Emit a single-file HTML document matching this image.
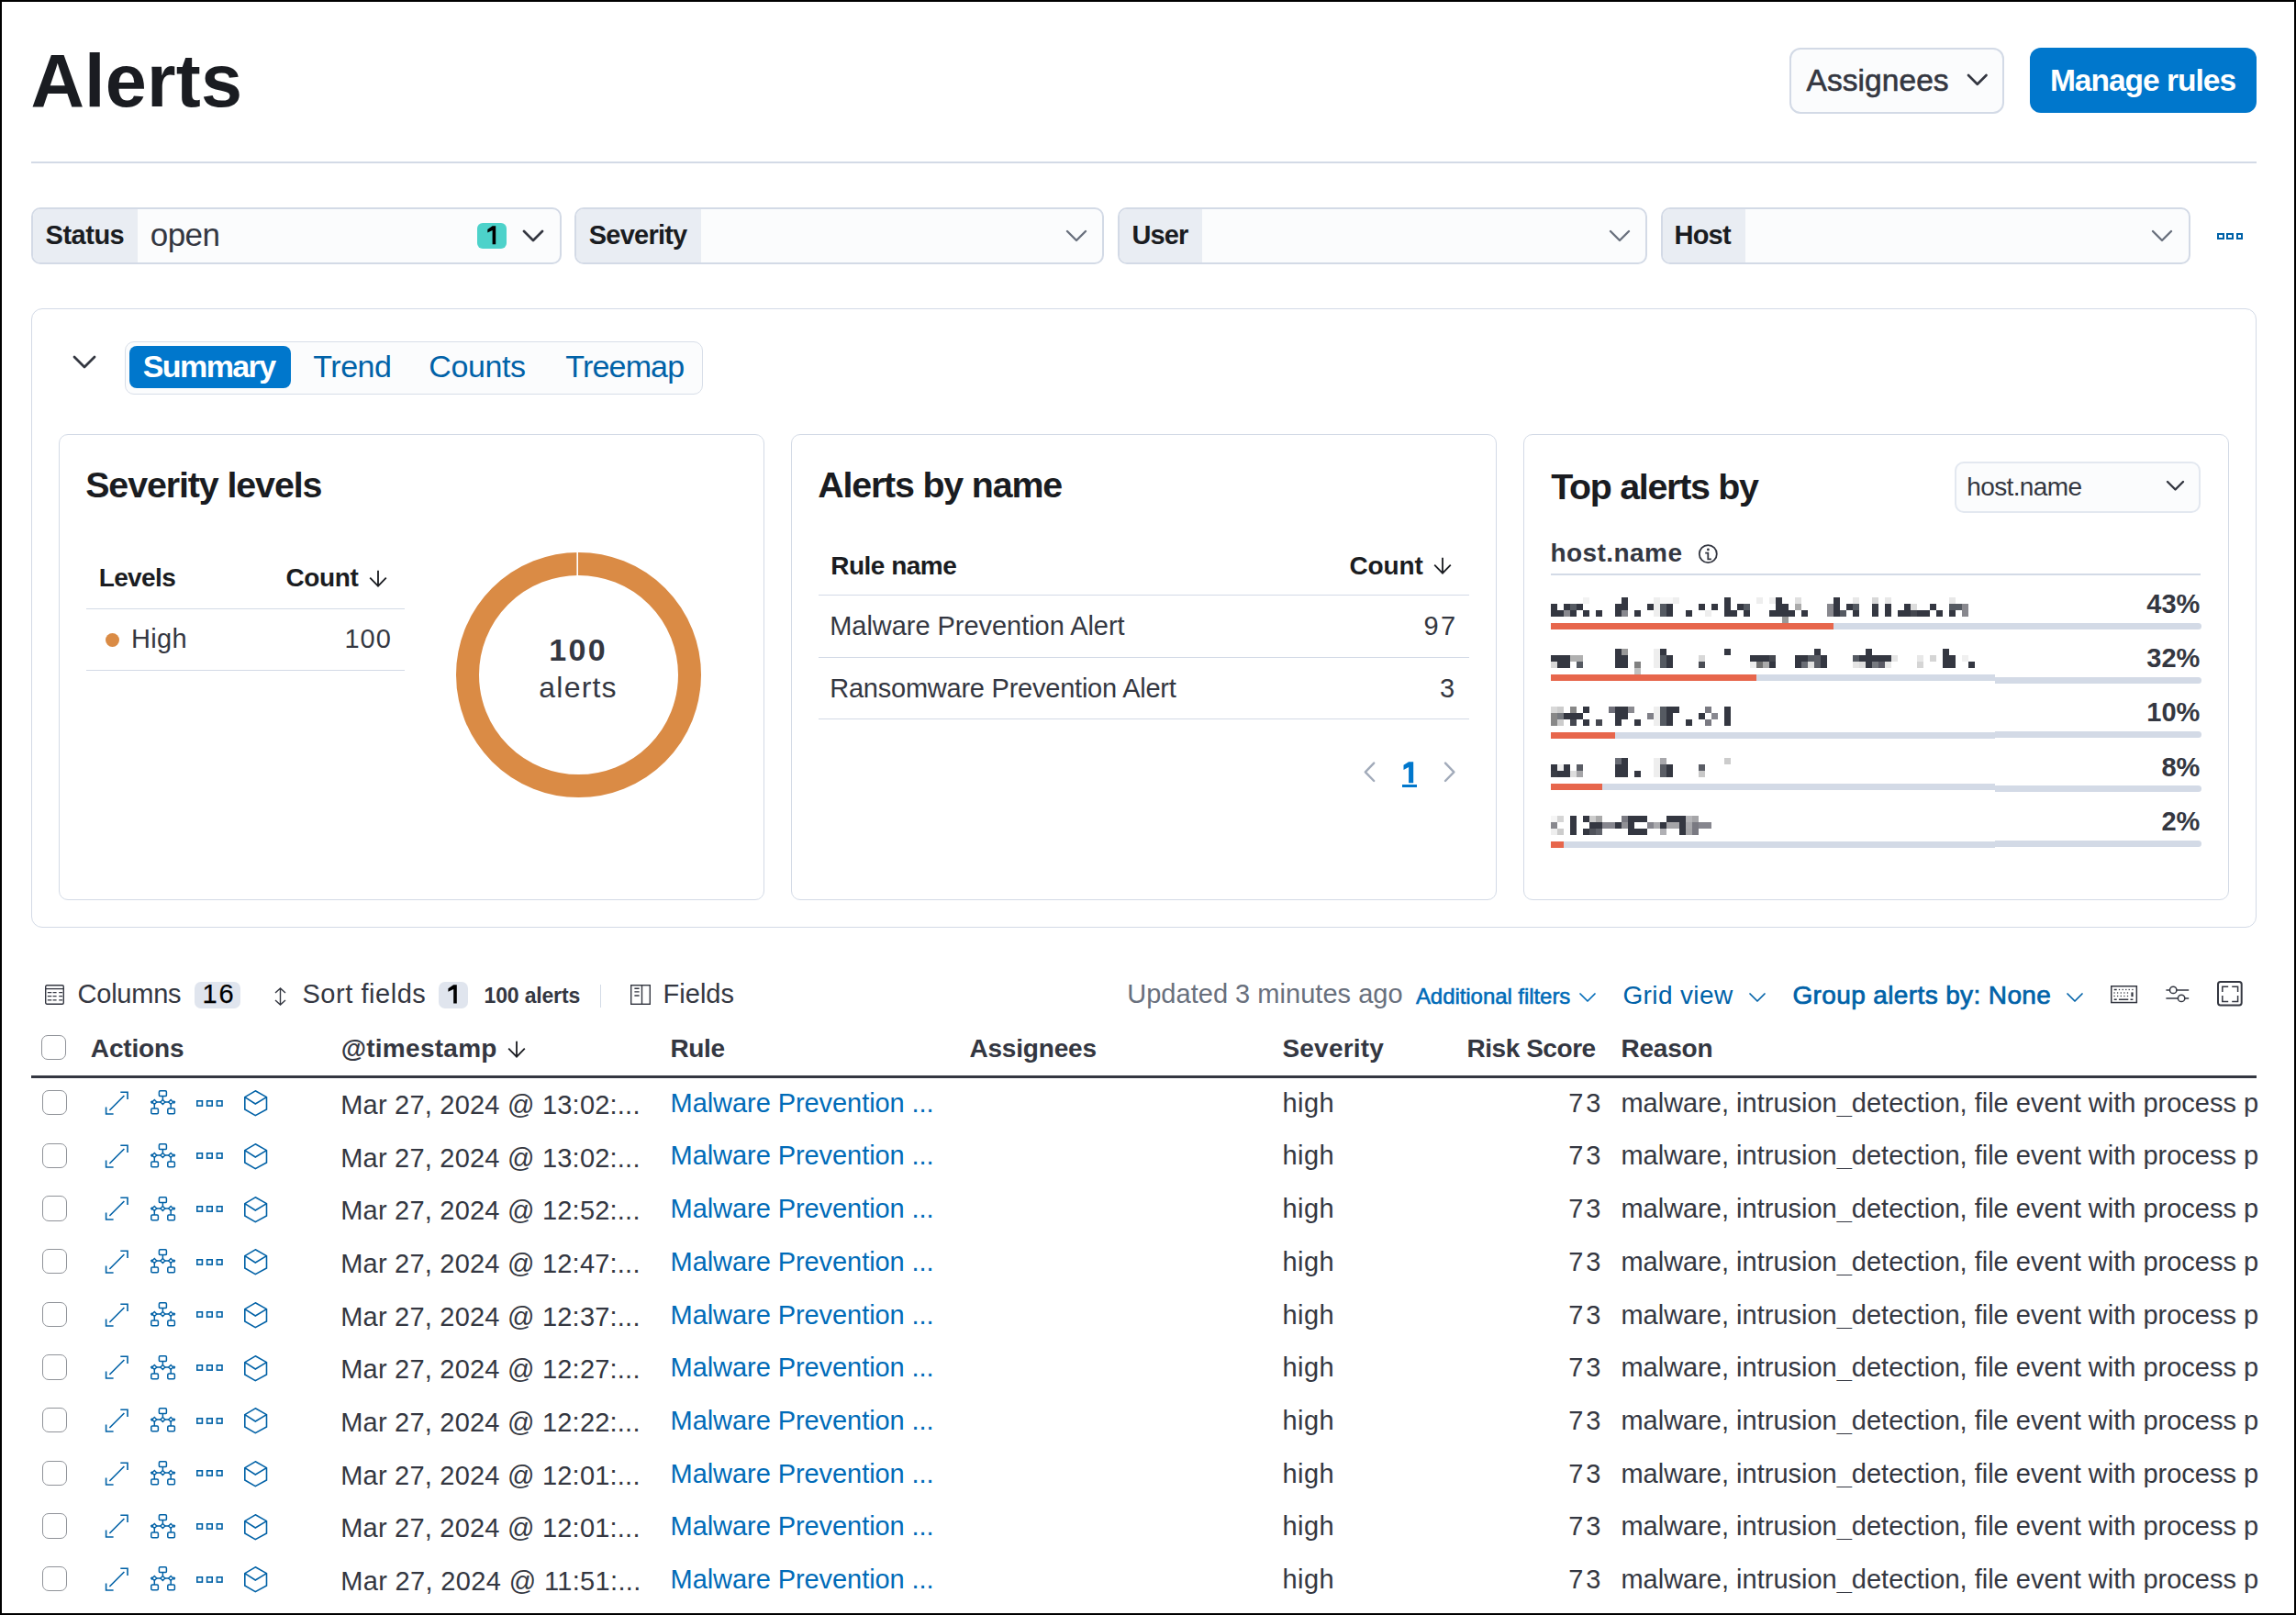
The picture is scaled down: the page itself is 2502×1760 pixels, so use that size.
<!DOCTYPE html>
<html><head><meta charset="utf-8">
<style>
*{box-sizing:border-box;margin:0;padding:0}
html,body{width:2502px;height:1760px;overflow:hidden;background:#fff}
body{font-family:"Liberation Sans",sans-serif;color:#343741;position:relative;border:2px solid #000}
.a{position:absolute;white-space:nowrap;line-height:1}
svg{position:absolute;overflow:visible}
.bl{display:inline-block;width:0;height:0;vertical-align:baseline}
</style></head><body>
<div class="a" id="title" style="left:31.38px;top:46.01px;font-size:81px;color:#1A1C21;font-weight:700;letter-spacing:0.200px;">Alerts<span class="bl"></span></div>
<div class="a" style="left:1947.50px;top:49.50px;width:234.50px;height:72.50px;border:2px solid #D3DAE6;border-radius:12px;background:#FBFCFD"></div>
<div class="a" id="assg" style="left:1966.53px;top:69.00px;font-size:33.5px;color:#343741;letter-spacing:0.063px;-webkit-text-stroke:0.6px #343741;">Assignees<span class="bl"></span></div>
<svg style="left:2139.55px;top:77.42px;" width="25.5" height="15.75" viewBox="0 0 25.5 15.75" fill="none"><path d="M3 3 L12.75 12.75 L22.50 3" stroke="#343741" stroke-width="2.7" stroke-linecap="round" stroke-linejoin="round"/></svg>
<div class="a" style="left:2210.00px;top:50.00px;width:246.50px;height:71.00px;background:#0077CC;border-radius:12px"></div>
<div class="a" id="mng" style="left:2231.93px;top:69.00px;font-size:33.5px;color:#FFFFFF;font-weight:700;letter-spacing:-1.000px;">Manage rules<span class="bl"></span></div>
<div class="a" style="left:32.00px;top:174.00px;width:2425.00px;height:2.00px;background:#D3DAE6"></div>
<div class="a" style="left:32.00px;top:224.00px;width:578.00px;height:62.00px;border:2px solid #D3DAE6;border-radius:10px;background:#FBFCFD;overflow:hidden"></div>
<div class="a" style="left:34.00px;top:226.00px;width:113.60px;height:58.00px;background:#E9EDF3;border-radius:8px 0 0 8px"></div>
<div class="a" id="flab0" style="left:47.62px;top:240.10px;font-size:29px;color:#1A1C21;font-weight:700;letter-spacing:-0.500px;">Status<span class="bl"></span></div>
<svg style="left:566.30px;top:247.00px;" width="26" height="16.0" viewBox="0 0 26 16.0" fill="none"><path d="M3 3 L13.00 13.00 L23.00 3" stroke="#343741" stroke-width="2.7" stroke-linecap="round" stroke-linejoin="round"/></svg>
<div class="a" style="left:623.80px;top:224.00px;width:577.20px;height:62.00px;border:2px solid #D3DAE6;border-radius:10px;background:#FBFCFD;overflow:hidden"></div>
<div class="a" style="left:625.80px;top:226.00px;width:135.90px;height:58.00px;background:#E9EDF3;border-radius:8px 0 0 8px"></div>
<div class="a" id="flab1" style="left:639.82px;top:240.10px;font-size:29px;color:#1A1C21;font-weight:700;letter-spacing:-0.786px;">Severity<span class="bl"></span></div>
<svg style="left:1157.50px;top:247.00px;" width="26" height="16.0" viewBox="0 0 26 16.0" fill="none"><path d="M3 3 L13.00 13.00 L23.00 3" stroke="#69707D" stroke-width="2.3" stroke-linecap="round" stroke-linejoin="round"/></svg>
<div class="a" style="left:1215.80px;top:224.00px;width:577.20px;height:62.00px;border:2px solid #D3DAE6;border-radius:10px;background:#FBFCFD;overflow:hidden"></div>
<div class="a" style="left:1217.80px;top:226.00px;width:90.20px;height:58.00px;background:#E9EDF3;border-radius:8px 0 0 8px"></div>
<div class="a" id="flab2" style="left:1231.42px;top:240.10px;font-size:29px;color:#1A1C21;font-weight:700;letter-spacing:-0.833px;">User<span class="bl"></span></div>
<svg style="left:1749.50px;top:247.00px;" width="26" height="16.0" viewBox="0 0 26 16.0" fill="none"><path d="M3 3 L13.00 13.00 L23.00 3" stroke="#69707D" stroke-width="2.3" stroke-linecap="round" stroke-linejoin="round"/></svg>
<div class="a" style="left:1807.50px;top:224.00px;width:577.50px;height:62.00px;border:2px solid #D3DAE6;border-radius:10px;background:#FBFCFD;overflow:hidden"></div>
<div class="a" style="left:1809.50px;top:226.00px;width:90.50px;height:58.00px;background:#E9EDF3;border-radius:8px 0 0 8px"></div>
<div class="a" id="flab3" style="left:1822.62px;top:240.10px;font-size:29px;color:#1A1C21;font-weight:700;letter-spacing:-0.833px;">Host<span class="bl"></span></div>
<svg style="left:2341.00px;top:247.00px;" width="26" height="16.0" viewBox="0 0 26 16.0" fill="none"><path d="M3 3 L13.00 13.00 L23.00 3" stroke="#69707D" stroke-width="2.3" stroke-linecap="round" stroke-linejoin="round"/></svg>
<div class="a" id="open" style="left:161.70px;top:236.10px;font-size:35px;color:#343741;letter-spacing:-0.500px;">open<span class="bl"></span></div>
<div class="a" style="left:518.00px;top:241.00px;width:32.00px;height:28.00px;background:#4DD2CA;border-radius:6px"></div>
<svg style="left:528.50px;top:243.80px;" width="10" height="21" viewBox="0 0 10 21" fill="none"><path d="M5.6 0.2 H9.2 V20.3 H5.6 V4.9 L0.3 7.6 V4.1 Z" fill="#000"/></svg>
<div class="a" style="left:2414.00px;top:251.80px;width:7.60px;height:7.00px;border:2px solid #0062A8"></div>
<div class="a" style="left:2424.30px;top:251.80px;width:7.60px;height:7.00px;border:2px solid #0062A8"></div>
<div class="a" style="left:2434.60px;top:251.80px;width:7.60px;height:7.00px;border:2px solid #0062A8"></div>
<div class="a" style="left:32.00px;top:334.00px;width:2425.00px;height:675.00px;border:1px solid #D3DAE6;border-radius:12px"></div>
<svg style="left:76.00px;top:384.00px;" width="28" height="17.0" viewBox="0 0 28 17.0" fill="none"><path d="M3 3 L14.00 14.00 L25.00 3" stroke="#343741" stroke-width="2.8" stroke-linecap="round" stroke-linejoin="round"/></svg>
<div class="a" style="left:134.00px;top:370.00px;width:630.00px;height:58.00px;border:1px solid #D8DEE8;border-radius:10px;background:#FBFCFD"></div>
<div class="a" style="left:139.00px;top:375.00px;width:175.60px;height:45.60px;background:#0077CC;border-radius:8px"></div>
<div class="a" id="tab0" style="left:153.72px;top:380.00px;font-size:34px;color:#FFFFFF;font-weight:700;letter-spacing:-1.583px;">Summary<span class="bl"></span></div>
<div class="a" id="tab1" style="left:339.32px;top:380.00px;font-size:34px;color:#0062A8;letter-spacing:-0.500px;">Trend<span class="bl"></span></div>
<div class="a" id="tab2" style="left:465.32px;top:380.00px;font-size:34px;color:#0062A8;letter-spacing:-0.400px;">Counts<span class="bl"></span></div>
<div class="a" id="tab3" style="left:614.32px;top:380.00px;font-size:34px;color:#0062A8;letter-spacing:-0.833px;">Treemap<span class="bl"></span></div>
<div class="a" style="left:62.00px;top:471.00px;width:769.00px;height:508.00px;border:1px solid #D3DAE6;border-radius:10px"></div>
<div class="a" style="left:860.00px;top:471.00px;width:769.00px;height:508.00px;border:1px solid #D3DAE6;border-radius:10px"></div>
<div class="a" style="left:1658.00px;top:471.00px;width:769.00px;height:508.00px;border:1px solid #D3DAE6;border-radius:10px"></div>
<div class="a" id="p1t" style="left:91.21px;top:507.20px;font-size:39.4px;color:#1A1C21;font-weight:700;letter-spacing:-1.107px;">Severity levels<span class="bl"></span></div>
<div class="a" id="lev" style="left:105.64px;top:614.21px;font-size:28px;color:#1A1C21;font-weight:700;letter-spacing:-0.600px;">Levels<span class="bl"></span></div>
<div class="a" id="cnt1" style="left:309.44px;top:614.21px;font-size:28px;color:#1A1C21;font-weight:700;letter-spacing:-0.375px;">Count<span class="bl"></span></div>
<svg style="left:399.70px;top:619.30px;" width="20" height="19" viewBox="0 0 20 19" fill="none"><path d="M10 0.8 V17.6 M1.2 8.6 L10 17.6 L18.8 8.6" stroke="#1A1C21" stroke-width="1.8"/></svg>
<div class="a" style="left:92.00px;top:661.00px;width:347.00px;height:1.00px;background:#D3DAE6"></div>
<div class="a" style="left:113.00px;top:687.50px;width:15.00px;height:15.00px;background:#DA8B45;border-radius:50%"></div>
<div class="a" id="high" style="left:141.02px;top:679.81px;font-size:29px;color:#343741;letter-spacing:0.333px;">High<span class="bl"></span></div>
<div class="a" id="c100" style="left:373.42px;top:679.81px;font-size:29px;color:#343741;letter-spacing:1.000px;">100<span class="bl"></span></div>
<div class="a" style="left:92.00px;top:728.00px;width:347.00px;height:1.00px;background:#D3DAE6"></div>
<svg style="left:495.00px;top:599.80px;" width="267" height="267" viewBox="0 0 267 267" fill="none"><circle cx="133.5" cy="133.5" r="121" stroke="#DA8B45" stroke-width="25"/><line x1="132.2" y1="0" x2="132.2" y2="26" stroke="#fff" stroke-width="1.6"/></svg>
<div class="a" id="d100" style="left:596.32px;top:688.60px;font-size:34px;color:#343741;font-weight:700;letter-spacing:2.250px;">100<span class="bl"></span></div>
<div class="a" id="dal" style="left:585.36px;top:731.01px;font-size:32px;color:#343741;letter-spacing:1.200px;">alerts<span class="bl"></span></div>
<div class="a" id="p2t" style="left:889.21px;top:507.20px;font-size:39.4px;color:#1A1C21;font-weight:700;letter-spacing:-1.192px;">Alerts by name<span class="bl"></span></div>
<div class="a" id="rn" style="left:903.24px;top:600.50px;font-size:28px;color:#1A1C21;font-weight:700;letter-spacing:-0.500px;">Rule name<span class="bl"></span></div>
<div class="a" id="cnt2" style="left:1468.44px;top:600.50px;font-size:28px;color:#1A1C21;font-weight:700;letter-spacing:-0.125px;">Count<span class="bl"></span></div>
<svg style="left:1560.30px;top:605.00px;" width="20" height="19" viewBox="0 0 20 19" fill="none"><path d="M10 0.8 V17.6 M1.2 8.6 L10 17.6 L18.8 8.6" stroke="#1A1C21" stroke-width="1.8"/></svg>
<div class="a" style="left:890.00px;top:646.00px;width:709.00px;height:1.00px;background:#D3DAE6"></div>
<div class="a" id="mpa" style="left:902.22px;top:665.70px;font-size:29px;color:#343741;letter-spacing:-0.043px;">Malware Prevention Alert<span class="bl"></span></div>
<div class="a" id="n97" style="left:1549.42px;top:665.70px;font-size:29px;color:#343741;letter-spacing:2.500px;">97<span class="bl"></span></div>
<div class="a" style="left:890.00px;top:714.00px;width:709.00px;height:1.00px;background:#D3DAE6"></div>
<div class="a" id="rpa" style="left:902.22px;top:733.70px;font-size:29px;color:#343741;letter-spacing:-0.231px;">Ransomware Prevention Alert<span class="bl"></span></div>
<div class="a" id="n3" style="left:1567.02px;top:733.70px;font-size:29px;color:#343741;letter-spacing:0.000px;">3<span class="bl"></span></div>
<div class="a" style="left:890.00px;top:781.00px;width:709.00px;height:1.00px;background:#D3DAE6"></div>
<svg style="left:1484.00px;top:828.00px;" width="14" height="23" viewBox="0 0 14 23" fill="none"><path d="M11.2 1.6 L1.8 11.3 L11.2 21" stroke="#A2ABBA" stroke-width="2.4" stroke-linecap="round" stroke-linejoin="round"/></svg>
<svg style="left:1527.00px;top:827.50px;" width="12" height="24" viewBox="0 0 12 24" fill="none"><path d="M6.1 0.2 H11.2 V23.2 H6.1 V6.1 L0.5 9.1 V3.7 Z" fill="#0077CC"/></svg>
<div class="a" style="left:1526.30px;top:853.20px;width:15.30px;height:2.60px;background:#0077CC"></div>
<svg style="left:1571.00px;top:828.00px;" width="14" height="23" viewBox="0 0 14 23" fill="none"><path d="M2 1.6 L11.4 11.3 L2 21" stroke="#A2ABBA" stroke-width="2.4" stroke-linecap="round" stroke-linejoin="round"/></svg>
<div class="a" id="p3t" style="left:1688.21px;top:508.61px;font-size:39.4px;color:#1A1C21;font-weight:700;letter-spacing:-1.292px;">Top alerts by<span class="bl"></span></div>
<div class="a" style="left:2127.80px;top:500.50px;width:268.20px;height:56.80px;border:2px solid #E3E8F0;border-radius:10px;background:#FBFCFD"></div>
<div class="a" id="hn" style="left:2141.24px;top:515.00px;font-size:28px;color:#343741;letter-spacing:-0.625px;">host.name<span class="bl"></span></div>
<svg style="left:2357.00px;top:520.25px;" width="23" height="14.5" viewBox="0 0 23 14.5" fill="none"><path d="M3 3 L11.50 11.50 L20.00 3" stroke="#343741" stroke-width="2.4" stroke-linecap="round" stroke-linejoin="round"/></svg>
<div class="a" id="hnb" style="left:1687.44px;top:587.31px;font-size:28px;color:#343741;font-weight:700;letter-spacing:0.438px;">host.name<span class="bl"></span></div>
<svg style="left:1849.00px;top:589.50px;" width="22" height="22" viewBox="0 0 22 22" fill="none"><circle cx="10.3" cy="11.7" r="9.5" stroke="#343741" stroke-width="1.8"/><circle cx="10.4" cy="6.9" r="1.4" fill="#343741"/><path d="M7.2 10.6 H10.3 V17.4 H13.9" stroke="#343741" stroke-width="1.8"/></svg>
<div class="a" style="left:1688.00px;top:623.00px;width:708.40px;height:2.00px;background:#D3DAE6"></div>
<div class="a" style="left:2171.90px;top:677.20px;width:224.70px;height:6.80px;background:#D3DAE6;border-radius:0 4px 4px 0"></div>
<div class="a" style="left:1688.00px;top:677.20px;width:483.90px;height:6.80px;background:#D3DAE6"></div>
<div class="a" style="left:1688.00px;top:677.20px;width:307.70px;height:6.80px;background:#E7664C"></div>
<div class="a" id="pct0" style="left:2395.42px;top:642.01px;font-size:29px;color:#343741;font-weight:700;letter-spacing:0.000px;transform:translateX(-100%);">43%<span class="bl"></span></div>
<div class="a" style="left:2171.90px;top:736.10px;width:224.70px;height:6.80px;background:#D3DAE6;border-radius:0 4px 4px 0"></div>
<div class="a" style="left:1688.00px;top:733.00px;width:483.90px;height:6.80px;background:#D3DAE6"></div>
<div class="a" style="left:1688.00px;top:733.00px;width:223.80px;height:6.80px;background:#E7664C"></div>
<div class="a" id="pct1" style="left:2395.42px;top:701.01px;font-size:29px;color:#343741;font-weight:700;letter-spacing:0.000px;transform:translateX(-100%);">32%<span class="bl"></span></div>
<div class="a" style="left:2171.90px;top:795.00px;width:224.70px;height:6.80px;background:#D3DAE6;border-radius:0 4px 4px 0"></div>
<div class="a" style="left:1688.00px;top:796.00px;width:483.90px;height:6.80px;background:#D3DAE6"></div>
<div class="a" style="left:1688.00px;top:796.00px;width:70.00px;height:6.80px;background:#E7664C"></div>
<div class="a" id="pct2" style="left:2395.42px;top:760.20px;font-size:29px;color:#343741;font-weight:700;letter-spacing:0.000px;transform:translateX(-100%);">10%<span class="bl"></span></div>
<div class="a" style="left:2171.90px;top:854.00px;width:224.70px;height:6.80px;background:#D3DAE6;border-radius:0 4px 4px 0"></div>
<div class="a" style="left:1688.00px;top:852.10px;width:483.90px;height:6.80px;background:#D3DAE6"></div>
<div class="a" style="left:1688.00px;top:852.10px;width:55.90px;height:6.80px;background:#E7664C"></div>
<div class="a" id="pct3" style="left:2395.42px;top:820.01px;font-size:29px;color:#343741;font-weight:700;letter-spacing:0.000px;transform:translateX(-100%);">8%<span class="bl"></span></div>
<div class="a" style="left:2171.90px;top:914.00px;width:224.70px;height:6.80px;background:#D3DAE6;border-radius:0 4px 4px 0"></div>
<div class="a" style="left:1688.00px;top:915.30px;width:483.90px;height:6.80px;background:#D3DAE6"></div>
<div class="a" style="left:1688.00px;top:915.30px;width:14.00px;height:6.80px;background:#E7664C"></div>
<div class="a" id="pct4" style="left:2395.42px;top:879.01px;font-size:29px;color:#343741;font-weight:700;letter-spacing:0.000px;transform:translateX(-100%);">2%<span class="bl"></span></div>
<svg style="left:1688.00px;top:649.00px;shape-rendering:crispEdges;" width="480" height="28" viewBox="0 0 480 28" fill="none"><rect x="35" y="0" width="7" height="7" fill="#F2F2F2"/><rect x="77" y="0" width="7" height="7" fill="#343741"/><rect x="112" y="0" width="7" height="7" fill="#EEEEEE"/><rect x="119" y="0" width="7" height="7" fill="#F8F8F8"/><rect x="126" y="0" width="7" height="7" fill="#F8F8F8"/><rect x="133" y="0" width="7" height="7" fill="#EEEEEE"/><rect x="189" y="0" width="7" height="7" fill="#343741"/><rect x="224" y="0" width="7" height="7" fill="#EEEEEE"/><rect x="238" y="0" width="7" height="7" fill="#EEEEEE"/><rect x="245" y="0" width="7" height="7" fill="#343741"/><rect x="266" y="0" width="7" height="7" fill="#E0E0E0"/><rect x="308" y="0" width="7" height="7" fill="#343741"/><rect x="329" y="0" width="7" height="7" fill="#E8E8E8"/><rect x="350" y="0" width="7" height="7" fill="#D8D8D8"/><rect x="364" y="0" width="7" height="7" fill="#E8E8E8"/><rect x="434" y="0" width="7" height="7" fill="#E8E8E8"/><rect x="0" y="7" width="7" height="7" fill="#343741"/><rect x="14" y="7" width="7" height="7" fill="#343741"/><rect x="21" y="7" width="7" height="7" fill="#555A62"/><rect x="28" y="7" width="7" height="7" fill="#343741"/><rect x="70" y="7" width="7" height="7" fill="#343741"/><rect x="77" y="7" width="7" height="7" fill="#343741"/><rect x="105" y="7" width="7" height="7" fill="#343741"/><rect x="112" y="7" width="7" height="7" fill="#EEEEEE"/><rect x="119" y="7" width="7" height="7" fill="#555A62"/><rect x="126" y="7" width="7" height="7" fill="#343741"/><rect x="161" y="7" width="7" height="7" fill="#343741"/><rect x="175" y="7" width="7" height="7" fill="#343741"/><rect x="189" y="7" width="7" height="7" fill="#343741"/><rect x="203" y="7" width="7" height="7" fill="#343741"/><rect x="210" y="7" width="7" height="7" fill="#555A62"/><rect x="245" y="7" width="7" height="7" fill="#343741"/><rect x="252" y="7" width="7" height="7" fill="#343741"/><rect x="266" y="7" width="7" height="7" fill="#AAAAAA"/><rect x="301" y="7" width="7" height="7" fill="#88888E"/><rect x="308" y="7" width="7" height="7" fill="#343741"/><rect x="322" y="7" width="7" height="7" fill="#343741"/><rect x="329" y="7" width="7" height="7" fill="#555A62"/><rect x="350" y="7" width="7" height="7" fill="#3A3D45"/><rect x="364" y="7" width="7" height="7" fill="#343741"/><rect x="385" y="7" width="7" height="7" fill="#343741"/><rect x="392" y="7" width="7" height="7" fill="#DDDDDD"/><rect x="413" y="7" width="7" height="7" fill="#343741"/><rect x="434" y="7" width="7" height="7" fill="#555A62"/><rect x="441" y="7" width="7" height="7" fill="#555A62"/><rect x="448" y="7" width="7" height="7" fill="#88888E"/><rect x="0" y="14" width="7" height="7" fill="#343741"/><rect x="7" y="14" width="7" height="7" fill="#343741"/><rect x="14" y="14" width="7" height="7" fill="#88888E"/><rect x="21" y="14" width="7" height="7" fill="#343741"/><rect x="35" y="14" width="7" height="7" fill="#343741"/><rect x="49" y="14" width="7" height="7" fill="#343741"/><rect x="70" y="14" width="7" height="7" fill="#343741"/><rect x="77" y="14" width="7" height="7" fill="#88888E"/><rect x="91" y="14" width="7" height="7" fill="#343741"/><rect x="112" y="14" width="7" height="7" fill="#EEEEEE"/><rect x="119" y="14" width="7" height="7" fill="#555A62"/><rect x="126" y="14" width="7" height="7" fill="#343741"/><rect x="147" y="14" width="7" height="7" fill="#343741"/><rect x="168" y="14" width="7" height="7" fill="#EEEEEE"/><rect x="189" y="14" width="7" height="7" fill="#343741"/><rect x="196" y="14" width="7" height="7" fill="#343741"/><rect x="210" y="14" width="7" height="7" fill="#343741"/><rect x="238" y="14" width="7" height="7" fill="#343741"/><rect x="245" y="14" width="7" height="7" fill="#343741"/><rect x="252" y="14" width="7" height="7" fill="#343741"/><rect x="259" y="14" width="7" height="7" fill="#343741"/><rect x="273" y="14" width="7" height="7" fill="#343741"/><rect x="301" y="14" width="7" height="7" fill="#88888E"/><rect x="308" y="14" width="7" height="7" fill="#343741"/><rect x="315" y="14" width="7" height="7" fill="#555A62"/><rect x="329" y="14" width="7" height="7" fill="#343741"/><rect x="350" y="14" width="7" height="7" fill="#343741"/><rect x="364" y="14" width="7" height="7" fill="#343741"/><rect x="378" y="14" width="7" height="7" fill="#343741"/><rect x="385" y="14" width="7" height="7" fill="#343741"/><rect x="392" y="14" width="7" height="7" fill="#44474F"/><rect x="399" y="14" width="7" height="7" fill="#343741"/><rect x="406" y="14" width="7" height="7" fill="#343741"/><rect x="420" y="14" width="7" height="7" fill="#343741"/><rect x="434" y="14" width="7" height="7" fill="#343741"/><rect x="448" y="14" width="7" height="7" fill="#88888E"/><rect x="252" y="21" width="7" height="7" fill="#999999"/></svg>
<svg style="left:1688.00px;top:704.80px;shape-rendering:crispEdges;" width="480" height="28" viewBox="0 0 480 28" fill="none"><rect x="70" y="0" width="7" height="7" fill="#343741"/><rect x="77" y="0" width="7" height="7" fill="#999999"/><rect x="112" y="0" width="7" height="7" fill="#EEEEEE"/><rect x="119" y="0" width="7" height="7" fill="#343741"/><rect x="189" y="0" width="7" height="7" fill="#343741"/><rect x="287" y="0" width="7" height="7" fill="#343741"/><rect x="343" y="0" width="7" height="7" fill="#343741"/><rect x="427" y="0" width="7" height="7" fill="#343741"/><rect x="0" y="7" width="7" height="7" fill="#343741"/><rect x="7" y="7" width="7" height="7" fill="#343741"/><rect x="14" y="7" width="7" height="7" fill="#343741"/><rect x="21" y="7" width="7" height="7" fill="#B0B0B0"/><rect x="28" y="7" width="7" height="7" fill="#B0B0B0"/><rect x="70" y="7" width="7" height="7" fill="#343741"/><rect x="77" y="7" width="7" height="7" fill="#343741"/><rect x="112" y="7" width="7" height="7" fill="#EEEEEE"/><rect x="119" y="7" width="7" height="7" fill="#555A62"/><rect x="126" y="7" width="7" height="7" fill="#343741"/><rect x="161" y="7" width="7" height="7" fill="#D8D8D8"/><rect x="217" y="7" width="7" height="7" fill="#343741"/><rect x="224" y="7" width="7" height="7" fill="#343741"/><rect x="231" y="7" width="7" height="7" fill="#343741"/><rect x="238" y="7" width="7" height="7" fill="#454850"/><rect x="266" y="7" width="7" height="7" fill="#343741"/><rect x="273" y="7" width="7" height="7" fill="#343741"/><rect x="280" y="7" width="7" height="7" fill="#555A62"/><rect x="287" y="7" width="7" height="7" fill="#5A5D65"/><rect x="294" y="7" width="7" height="7" fill="#343741"/><rect x="329" y="7" width="7" height="7" fill="#555A62"/><rect x="336" y="7" width="7" height="7" fill="#343741"/><rect x="343" y="7" width="7" height="7" fill="#343741"/><rect x="350" y="7" width="7" height="7" fill="#343741"/><rect x="357" y="7" width="7" height="7" fill="#343741"/><rect x="364" y="7" width="7" height="7" fill="#343741"/><rect x="371" y="7" width="7" height="7" fill="#E5E5E5"/><rect x="399" y="7" width="7" height="7" fill="#E8E8E8"/><rect x="413" y="7" width="7" height="7" fill="#D5D5D5"/><rect x="427" y="7" width="7" height="7" fill="#343741"/><rect x="434" y="7" width="7" height="7" fill="#343741"/><rect x="448" y="7" width="7" height="7" fill="#F0F0F0"/><rect x="0" y="14" width="7" height="7" fill="#D8D8D8"/><rect x="7" y="14" width="7" height="7" fill="#343741"/><rect x="14" y="14" width="7" height="7" fill="#343741"/><rect x="28" y="14" width="7" height="7" fill="#555A62"/><rect x="70" y="14" width="7" height="7" fill="#343741"/><rect x="77" y="14" width="7" height="7" fill="#343741"/><rect x="91" y="14" width="7" height="7" fill="#808080"/><rect x="112" y="14" width="7" height="7" fill="#EEEEEE"/><rect x="119" y="14" width="7" height="7" fill="#555A62"/><rect x="126" y="14" width="7" height="7" fill="#343741"/><rect x="161" y="14" width="7" height="7" fill="#4A4D55"/><rect x="217" y="14" width="7" height="7" fill="#EEEEEE"/><rect x="224" y="14" width="7" height="7" fill="#707070"/><rect x="231" y="14" width="7" height="7" fill="#AAAAAA"/><rect x="238" y="14" width="7" height="7" fill="#343741"/><rect x="266" y="14" width="7" height="7" fill="#343741"/><rect x="273" y="14" width="7" height="7" fill="#6A6D75"/><rect x="280" y="14" width="7" height="7" fill="#E0E0E0"/><rect x="287" y="14" width="7" height="7" fill="#5A5D65"/><rect x="294" y="14" width="7" height="7" fill="#343741"/><rect x="329" y="14" width="7" height="7" fill="#E5E5E5"/><rect x="336" y="14" width="7" height="7" fill="#DDDDDD"/><rect x="343" y="14" width="7" height="7" fill="#343741"/><rect x="350" y="14" width="7" height="7" fill="#777A80"/><rect x="357" y="14" width="7" height="7" fill="#5A5A65"/><rect x="364" y="14" width="7" height="7" fill="#E8E8E8"/><rect x="399" y="14" width="7" height="7" fill="#D5D5D5"/><rect x="427" y="14" width="7" height="7" fill="#343741"/><rect x="434" y="14" width="7" height="7" fill="#343741"/><rect x="455" y="14" width="7" height="7" fill="#343741"/><rect x="91" y="21" width="7" height="7" fill="#C0C0C0"/></svg>
<svg style="left:1688.00px;top:767.80px;shape-rendering:crispEdges;" width="480" height="28" viewBox="0 0 480 28" fill="none"><rect x="0" y="0" width="7" height="7" fill="#D8D8D8"/><rect x="7" y="0" width="7" height="7" fill="#CCCCCC"/><rect x="21" y="0" width="7" height="7" fill="#888888"/><rect x="35" y="0" width="7" height="7" fill="#343741"/><rect x="63" y="0" width="7" height="7" fill="#70707A"/><rect x="70" y="0" width="7" height="7" fill="#343741"/><rect x="77" y="0" width="7" height="7" fill="#343741"/><rect x="84" y="0" width="7" height="7" fill="#8A8A90"/><rect x="112" y="0" width="7" height="7" fill="#EEEEEE"/><rect x="119" y="0" width="7" height="7" fill="#555A62"/><rect x="126" y="0" width="7" height="7" fill="#343741"/><rect x="133" y="0" width="7" height="7" fill="#343741"/><rect x="168" y="0" width="7" height="7" fill="#7A7A82"/><rect x="189" y="0" width="7" height="7" fill="#343741"/><rect x="0" y="7" width="7" height="7" fill="#888888"/><rect x="7" y="7" width="7" height="7" fill="#777A80"/><rect x="14" y="7" width="7" height="7" fill="#343741"/><rect x="21" y="7" width="7" height="7" fill="#343741"/><rect x="28" y="7" width="7" height="7" fill="#343741"/><rect x="70" y="7" width="7" height="7" fill="#343741"/><rect x="77" y="7" width="7" height="7" fill="#343741"/><rect x="105" y="7" width="7" height="7" fill="#808088"/><rect x="112" y="7" width="7" height="7" fill="#EEEEEE"/><rect x="119" y="7" width="7" height="7" fill="#555A62"/><rect x="126" y="7" width="7" height="7" fill="#343741"/><rect x="161" y="7" width="7" height="7" fill="#343741"/><rect x="175" y="7" width="7" height="7" fill="#888890"/><rect x="189" y="7" width="7" height="7" fill="#343741"/><rect x="0" y="14" width="7" height="7" fill="#888888"/><rect x="7" y="14" width="7" height="7" fill="#CCCCCC"/><rect x="21" y="14" width="7" height="7" fill="#454850"/><rect x="35" y="14" width="7" height="7" fill="#343741"/><rect x="49" y="14" width="7" height="7" fill="#454850"/><rect x="70" y="14" width="7" height="7" fill="#343741"/><rect x="91" y="14" width="7" height="7" fill="#343741"/><rect x="112" y="14" width="7" height="7" fill="#EEEEEE"/><rect x="119" y="14" width="7" height="7" fill="#555A62"/><rect x="126" y="14" width="7" height="7" fill="#343741"/><rect x="147" y="14" width="7" height="7" fill="#343741"/><rect x="168" y="14" width="7" height="7" fill="#7A7A82"/><rect x="189" y="14" width="7" height="7" fill="#343741"/></svg>
<svg style="left:1688.00px;top:823.90px;shape-rendering:crispEdges;" width="480" height="28" viewBox="0 0 480 28" fill="none"><rect x="70" y="0" width="7" height="7" fill="#6A6D75"/><rect x="77" y="0" width="7" height="7" fill="#343741"/><rect x="112" y="0" width="7" height="7" fill="#EEEEEE"/><rect x="119" y="0" width="7" height="7" fill="#A8A8AC"/><rect x="189" y="0" width="7" height="7" fill="#CCCCCC"/><rect x="0" y="7" width="7" height="7" fill="#343741"/><rect x="7" y="7" width="7" height="7" fill="#EEEEEE"/><rect x="14" y="7" width="7" height="7" fill="#343741"/><rect x="28" y="7" width="7" height="7" fill="#5A5D65"/><rect x="70" y="7" width="7" height="7" fill="#343741"/><rect x="77" y="7" width="7" height="7" fill="#343741"/><rect x="112" y="7" width="7" height="7" fill="#EEEEEE"/><rect x="119" y="7" width="7" height="7" fill="#5A5D65"/><rect x="126" y="7" width="7" height="7" fill="#343741"/><rect x="161" y="7" width="7" height="7" fill="#5A5D65"/><rect x="0" y="14" width="7" height="7" fill="#3A3D45"/><rect x="7" y="14" width="7" height="7" fill="#343741"/><rect x="14" y="14" width="7" height="7" fill="#343741"/><rect x="21" y="14" width="7" height="7" fill="#DDDDDD"/><rect x="28" y="14" width="7" height="7" fill="#A5A5A8"/><rect x="70" y="14" width="7" height="7" fill="#343741"/><rect x="77" y="14" width="7" height="7" fill="#343741"/><rect x="91" y="14" width="7" height="7" fill="#343741"/><rect x="112" y="14" width="7" height="7" fill="#EEEEEE"/><rect x="119" y="14" width="7" height="7" fill="#5A5D65"/><rect x="126" y="14" width="7" height="7" fill="#343741"/><rect x="161" y="14" width="7" height="7" fill="#C8C8C8"/></svg>
<svg style="left:1688.00px;top:887.10px;shape-rendering:crispEdges;" width="480" height="28" viewBox="0 0 480 28" fill="none"><rect x="0" y="0" width="7" height="7" fill="#F5F5F5"/><rect x="7" y="0" width="7" height="7" fill="#D5D5D5"/><rect x="21" y="0" width="7" height="7" fill="#343741"/><rect x="35" y="0" width="7" height="7" fill="#343741"/><rect x="42" y="0" width="7" height="7" fill="#CCCCCC"/><rect x="49" y="0" width="7" height="7" fill="#AAAAAA"/><rect x="77" y="0" width="7" height="7" fill="#7A7A82"/><rect x="84" y="0" width="7" height="7" fill="#343741"/><rect x="91" y="0" width="7" height="7" fill="#343741"/><rect x="98" y="0" width="7" height="7" fill="#343741"/><rect x="126" y="0" width="7" height="7" fill="#343741"/><rect x="133" y="0" width="7" height="7" fill="#343741"/><rect x="140" y="0" width="7" height="7" fill="#343741"/><rect x="147" y="0" width="7" height="7" fill="#B5B5B8"/><rect x="154" y="0" width="7" height="7" fill="#A5A5A8"/><rect x="0" y="7" width="7" height="7" fill="#88888E"/><rect x="21" y="7" width="7" height="7" fill="#343741"/><rect x="42" y="7" width="7" height="7" fill="#343741"/><rect x="49" y="7" width="7" height="7" fill="#343741"/><rect x="56" y="7" width="7" height="7" fill="#86868E"/><rect x="63" y="7" width="7" height="7" fill="#86868E"/><rect x="70" y="7" width="7" height="7" fill="#343741"/><rect x="77" y="7" width="7" height="7" fill="#909095"/><rect x="84" y="7" width="7" height="7" fill="#343741"/><rect x="105" y="7" width="7" height="7" fill="#86868E"/><rect x="112" y="7" width="7" height="7" fill="#AAAAAE"/><rect x="119" y="7" width="7" height="7" fill="#343741"/><rect x="126" y="7" width="7" height="7" fill="#A5A5A8"/><rect x="133" y="7" width="7" height="7" fill="#A5A5A8"/><rect x="140" y="7" width="7" height="7" fill="#343741"/><rect x="147" y="7" width="7" height="7" fill="#A8A8AC"/><rect x="154" y="7" width="7" height="7" fill="#7A7A82"/><rect x="161" y="7" width="7" height="7" fill="#86868E"/><rect x="168" y="7" width="7" height="7" fill="#86868E"/><rect x="0" y="14" width="7" height="7" fill="#EEEEEE"/><rect x="7" y="14" width="7" height="7" fill="#CCCCCC"/><rect x="21" y="14" width="7" height="7" fill="#343741"/><rect x="35" y="14" width="7" height="7" fill="#343741"/><rect x="42" y="14" width="7" height="7" fill="#50535B"/><rect x="49" y="14" width="7" height="7" fill="#60636B"/><rect x="84" y="14" width="7" height="7" fill="#343741"/><rect x="91" y="14" width="7" height="7" fill="#343741"/><rect x="98" y="14" width="7" height="7" fill="#343741"/><rect x="119" y="14" width="7" height="7" fill="#B0B0B4"/><rect x="140" y="14" width="7" height="7" fill="#343741"/><rect x="147" y="14" width="7" height="7" fill="#A5A5A8"/><rect x="154" y="14" width="7" height="7" fill="#7A7A82"/></svg>
<svg style="left:47.00px;top:1071.00px;" width="21" height="22" viewBox="0 0 21 22" fill="none"><rect x="0.7" y="0.7" width="19.6" height="20.6" rx="1.5" stroke="#343741" stroke-width="1.4"/><path d="M0.7 4.6 H20.3" stroke="#343741" stroke-width="1.3"/><path d="M2.8 8.6 H7.3 M8.6 8.6 H12.6 M15.2 8.6 H19.1" stroke="#343741" stroke-width="1.3"/><path d="M2.8 12.7 H7.3 M8.6 12.7 H12.6 M15.2 12.7 H19.1" stroke="#343741" stroke-width="1.3"/><path d="M2.8 16.8 H7.3 M8.6 16.8 H12.6 M15.2 16.8 H19.1" stroke="#343741" stroke-width="1.3"/></svg>
<div class="a" id="cols" style="left:82.62px;top:1067.01px;font-size:29px;color:#343741;letter-spacing:-0.250px;">Columns<span class="bl"></span></div>
<div class="a" style="left:210.20px;top:1068.20px;width:49.50px;height:28.60px;background:#E0E5EE;border-radius:7px"></div>
<div class="a" id="b16" style="left:218.42px;top:1067.01px;font-size:29px;color:#000;letter-spacing:2.000px;-webkit-text-stroke:0.25px #000;">16<span class="bl"></span></div>
<svg style="left:296.70px;top:1073.70px;" width="13" height="20" viewBox="0 0 13 20" fill="none"><path d="M1 6 L6.5 1 L12 6 M6.5 1 V19 M1 14 L6.5 19 L12 14" stroke="#343741" stroke-width="1.4"/></svg>
<div class="a" id="sortf" style="left:327.42px;top:1067.01px;font-size:29px;color:#343741;letter-spacing:0.550px;">Sort fields<span class="bl"></span></div>
<div class="a" style="left:476.10px;top:1068.00px;width:31.90px;height:28.80px;background:#E0E5EE;border-radius:7px"></div>
<svg style="left:486.30px;top:1070.80px;" width="11" height="21" viewBox="0 0 11 21" fill="none"><path d="M6.2 0.2 H9.8 V20.4 H6.2 V5 L0.4 7.8 V4.2 Z" fill="#000"/></svg>
<div class="a" id="alerts100" style="left:525.54px;top:1071.91px;font-size:23px;color:#343741;font-weight:700;letter-spacing:-0.167px;">100 alerts<span class="bl"></span></div>
<div class="a" style="left:651.90px;top:1070.60px;width:1.20px;height:25.20px;background:#D3DAE6"></div>
<svg style="left:685.00px;top:1071.00px;" width="22" height="22" viewBox="0 0 22 22" fill="none"><rect x="0.7" y="0.7" width="20.6" height="20.6" stroke="#343741" stroke-width="1.4"/><path d="M12.5 0.7 V21.3 M4.4 4.2 H9.6 M4.4 7.9 H9.6 M4.4 12 H9.6" stroke="#343741" stroke-width="1.4"/></svg>
<div class="a" id="fields" style="left:720.62px;top:1067.20px;font-size:29px;color:#343741;letter-spacing:0.000px;">Fields<span class="bl"></span></div>
<div class="a" id="upd" style="left:1226.22px;top:1066.51px;font-size:29px;color:#69707D;letter-spacing:0.025px;">Updated 3 minutes ago<span class="bl"></span></div>
<div class="a" id="addf" style="left:1540.92px;top:1071.91px;font-size:24px;color:#006BB8;letter-spacing:-0.059px;-webkit-text-stroke:0.55px #006BB8;">Additional filters<span class="bl"></span></div>
<svg style="left:1716.50px;top:1078.00px;" width="22" height="14.0" viewBox="0 0 22 14.0" fill="none"><path d="M3 3 L11.00 11.00 L19.00 3" stroke="#006BB8" stroke-width="1.7" stroke-linecap="round" stroke-linejoin="round"/></svg>
<div class="a" id="grid" style="left:1766.44px;top:1068.50px;font-size:28px;color:#0062A8;letter-spacing:0.375px;">Grid view<span class="bl"></span></div>
<svg style="left:1902.00px;top:1078.00px;" width="22" height="14.0" viewBox="0 0 22 14.0" fill="none"><path d="M3 3 L11.00 11.00 L19.00 3" stroke="#0062A8" stroke-width="1.7" stroke-linecap="round" stroke-linejoin="round"/></svg>
<div class="a" id="group" style="left:1951.44px;top:1068.50px;font-size:28px;color:#0062A8;letter-spacing:0.375px;-webkit-text-stroke:0.7px #0062A8;">Group alerts by: None<span class="bl"></span></div>
<svg style="left:2247.50px;top:1078.00px;" width="22" height="14.0" viewBox="0 0 22 14.0" fill="none"><path d="M3 3 L11.00 11.00 L19.00 3" stroke="#0062A8" stroke-width="1.7" stroke-linecap="round" stroke-linejoin="round"/></svg>
<svg style="left:2298.40px;top:1072.40px;" width="29" height="19.3" viewBox="0 0 29 19.3" fill="none"><rect x="0.75" y="0.75" width="27.6" height="17.8" stroke="#343741" stroke-width="1.5"/><path d="M3.7 4.5 H6.7 M3.7 15.2 H6.7 M8.9 15.2 H19.3 M21.5 15.2 H24.4" stroke="#343741" stroke-width="1.4"/><rect x="8.85" y="3.85" width="1.3" height="1.3" fill="#343741"/><rect x="12.55" y="3.85" width="1.3" height="1.3" fill="#343741"/><rect x="16.15" y="3.85" width="1.3" height="1.3" fill="#343741"/><rect x="19.55" y="3.85" width="1.3" height="1.3" fill="#343741"/><rect x="23.25" y="3.85" width="1.3" height="1.3" fill="#343741"/><rect x="3.45" y="7.35" width="1.3" height="1.3" fill="#343741"/><rect x="6.95" y="7.35" width="1.3" height="1.3" fill="#343741"/><rect x="10.65" y="7.35" width="1.3" height="1.3" fill="#343741"/><rect x="14.25" y="7.35" width="1.3" height="1.3" fill="#343741"/><rect x="17.85" y="7.35" width="1.3" height="1.3" fill="#343741"/><rect x="3.45" y="10.85" width="1.3" height="1.3" fill="#343741"/><rect x="6.95" y="10.85" width="1.3" height="1.3" fill="#343741"/><rect x="10.65" y="10.85" width="1.3" height="1.3" fill="#343741"/><rect x="14.25" y="10.85" width="1.3" height="1.3" fill="#343741"/><rect x="17.85" y="10.85" width="1.3" height="1.3" fill="#343741"/><rect x="22.4" y="7.4" width="2.2" height="4.8" fill="#343741"/></svg>
<svg style="left:2357.60px;top:1072.00px;" width="26" height="20" viewBox="0 0 26 20" fill="none"><path d="M0.4 4.9 H25.2 M0.4 13.9 H25.2" stroke="#343741" stroke-width="1.5"/><circle cx="8.2" cy="4.9" r="3.7" fill="#fff" stroke="#343741" stroke-width="1.5"/><circle cx="17.1" cy="13.9" r="3.7" fill="#fff" stroke="#343741" stroke-width="1.5"/></svg>
<svg style="left:2414.30px;top:1067.30px;" width="28" height="27.5" viewBox="0 0 28 27.5" fill="none"><rect x="1" y="1" width="25.7" height="25.4" rx="2.6" stroke="#343741" stroke-width="2"/><path d="M5.8 11.9 V6.2 H12.2 M16.2 6.2 H22.6 V11.9 M5.8 16 V22.5 H12.2 M16.2 22.5 H22.6 V16" stroke="#343741" stroke-width="1.5"/></svg>
<div class="a" style="left:43.40px;top:1126.00px;width:27.00px;height:27.40px;border:1.3px solid #909399;border-radius:7px;background:#fff"></div>
<div class="a" id="hAct" style="left:96.84px;top:1126.91px;font-size:28px;color:#343741;font-weight:700;letter-spacing:-0.167px;">Actions<span class="bl"></span></div>
<div class="a" id="hTs" style="left:369.64px;top:1126.91px;font-size:28px;color:#343741;font-weight:700;letter-spacing:0.278px;">@timestamp<span class="bl"></span></div>
<svg style="left:551.00px;top:1131.50px;" width="20" height="19" viewBox="0 0 20 19" fill="none"><path d="M10 0.8 V17.6 M1.2 8.6 L10 17.6 L18.8 8.6" stroke="#1A1C21" stroke-width="1.8"/></svg>
<div class="a" id="hRule" style="left:728.44px;top:1126.91px;font-size:28px;color:#343741;font-weight:700;letter-spacing:-0.333px;">Rule<span class="bl"></span></div>
<div class="a" id="hAsg" style="left:1054.44px;top:1126.91px;font-size:28px;color:#343741;font-weight:700;letter-spacing:-0.187px;">Assignees<span class="bl"></span></div>
<div class="a" id="hSev" style="left:1395.44px;top:1126.91px;font-size:28px;color:#343741;font-weight:700;letter-spacing:0.214px;">Severity<span class="bl"></span></div>
<div class="a" id="hRisk" style="left:1596.44px;top:1126.91px;font-size:28px;color:#343741;font-weight:700;letter-spacing:-0.444px;">Risk Score<span class="bl"></span></div>
<div class="a" id="hReason" style="left:1764.44px;top:1126.91px;font-size:28px;color:#343741;font-weight:700;letter-spacing:-0.200px;">Reason<span class="bl"></span></div>
<div class="a" style="left:32.00px;top:1170.00px;width:2425.00px;height:3.00px;background:#343741"></div>
<div class="a" style="left:43.90px;top:1185.90px;width:27.00px;height:27.40px;border:1.3px solid #909399;border-radius:7px;background:#fff"></div>
<svg style="left:112.00px;top:1187.00px;" width="26.5" height="26.5" viewBox="0 0 26.5 26.5" fill="none"><path d="M17.3 1.3 H25 V9" stroke="#0061A6" stroke-width="1.6"/><path d="M21.4 5 L5.4 21" stroke="#0061A6" stroke-width="1.6"/><path d="M1.6 17.4 V25 H9.6" stroke="#0061A6" stroke-width="1.6"/></svg>
<svg style="left:162.00px;top:1186.30px;" width="27.2" height="27" viewBox="0 0 27.2 27" fill="none"><rect x="9.4" y="0.8" width="8" height="5.8" rx="1.2" stroke="#0061A6" stroke-width="1.5"/><path d="M13.4 6.6 V10.6 M0.6 13.1 H26.6 M4.3 15.5 V20 M22.2 15.5 V20" stroke="#0061A6" stroke-width="1.5"/><path d="M4.3 10.6 L6.8 13.1 L4.3 15.6 L1.7999999999999998 13.1 Z" fill="#fff" stroke="#0061A6" stroke-width="1.4"/><path d="M13.4 10.6 L15.9 13.1 L13.4 15.6 L10.9 13.1 Z" fill="#fff" stroke="#0061A6" stroke-width="1.4"/><path d="M22.2 10.6 L24.7 13.1 L22.2 15.6 L19.7 13.1 Z" fill="#fff" stroke="#0061A6" stroke-width="1.4"/><path d="M0.2 13.1 L2 11.6 M0.2 13.1 L2 14.6 M27 13.1 L25.2 11.6 M27 13.1 L25.2 14.6" stroke="#0061A6" stroke-width="1.2"/><rect x="0.8" y="20" width="7.6" height="5.8" rx="1.2" stroke="#0061A6" stroke-width="1.5"/><rect x="18.8" y="20" width="7.6" height="5.8" rx="1.2" stroke="#0061A6" stroke-width="1.5"/></svg>
<svg style="left:211.60px;top:1196.60px;" width="30" height="7" viewBox="0 0 30 7" fill="none"><rect x="0.8" y="0.8" width="5.6" height="5.3" stroke="#0061A6" stroke-width="1.6"/><rect x="11.6" y="0.8" width="5.6" height="5.3" stroke="#0061A6" stroke-width="1.6"/><rect x="22.4" y="0.8" width="5.6" height="5.3" stroke="#0061A6" stroke-width="1.6"/></svg>
<svg style="left:264.00px;top:1186.20px;" width="25.3" height="28.4" viewBox="0 0 25.3 28.4" fill="none"><path d="M12.3 0.8 L24.5 7.6 V21 L12.3 27.6 L0.8 21 V7.6 Z M0.8 7.6 L12.3 15 L24.5 7.6" stroke="#0061A6" stroke-width="1.6" stroke-linejoin="miter"/></svg>
<div class="a" id="ts0" style="left:369.22px;top:1187.91px;font-size:29px;color:#343741;letter-spacing:0.217px;">Mar 27, 2024 @ 13:02:...<span class="bl"></span></div>
<div class="a" id="rl0" style="left:728.62px;top:1185.81px;font-size:29px;color:#006BB8;letter-spacing:-0.071px;">Malware Prevention ...<span class="bl"></span></div>
<div class="a" id="hi0" style="left:1395.42px;top:1185.81px;font-size:29px;color:#343741;letter-spacing:0.500px;">high<span class="bl"></span></div>
<div class="a" id="rs0" style="left:1707.22px;top:1185.81px;font-size:29px;color:#343741;letter-spacing:3.000px;">73<span class="bl"></span></div>
<div class="a" id="rsn0" style="left:1764.42px;top:1185.81px;font-size:29px;color:#343741;letter-spacing:0.000px;width:695px;overflow:hidden;">malware, intrusion_detection, file event with process path<span class="bl"></span></div>
<div class="a" style="left:43.90px;top:1243.58px;width:27.00px;height:27.40px;border:1.3px solid #909399;border-radius:7px;background:#fff"></div>
<svg style="left:112.00px;top:1244.68px;" width="26.5" height="26.5" viewBox="0 0 26.5 26.5" fill="none"><path d="M17.3 1.3 H25 V9" stroke="#0061A6" stroke-width="1.6"/><path d="M21.4 5 L5.4 21" stroke="#0061A6" stroke-width="1.6"/><path d="M1.6 17.4 V25 H9.6" stroke="#0061A6" stroke-width="1.6"/></svg>
<svg style="left:162.00px;top:1243.98px;" width="27.2" height="27" viewBox="0 0 27.2 27" fill="none"><rect x="9.4" y="0.8" width="8" height="5.8" rx="1.2" stroke="#0061A6" stroke-width="1.5"/><path d="M13.4 6.6 V10.6 M0.6 13.1 H26.6 M4.3 15.5 V20 M22.2 15.5 V20" stroke="#0061A6" stroke-width="1.5"/><path d="M4.3 10.6 L6.8 13.1 L4.3 15.6 L1.7999999999999998 13.1 Z" fill="#fff" stroke="#0061A6" stroke-width="1.4"/><path d="M13.4 10.6 L15.9 13.1 L13.4 15.6 L10.9 13.1 Z" fill="#fff" stroke="#0061A6" stroke-width="1.4"/><path d="M22.2 10.6 L24.7 13.1 L22.2 15.6 L19.7 13.1 Z" fill="#fff" stroke="#0061A6" stroke-width="1.4"/><path d="M0.2 13.1 L2 11.6 M0.2 13.1 L2 14.6 M27 13.1 L25.2 11.6 M27 13.1 L25.2 14.6" stroke="#0061A6" stroke-width="1.2"/><rect x="0.8" y="20" width="7.6" height="5.8" rx="1.2" stroke="#0061A6" stroke-width="1.5"/><rect x="18.8" y="20" width="7.6" height="5.8" rx="1.2" stroke="#0061A6" stroke-width="1.5"/></svg>
<svg style="left:211.60px;top:1254.28px;" width="30" height="7" viewBox="0 0 30 7" fill="none"><rect x="0.8" y="0.8" width="5.6" height="5.3" stroke="#0061A6" stroke-width="1.6"/><rect x="11.6" y="0.8" width="5.6" height="5.3" stroke="#0061A6" stroke-width="1.6"/><rect x="22.4" y="0.8" width="5.6" height="5.3" stroke="#0061A6" stroke-width="1.6"/></svg>
<svg style="left:264.00px;top:1243.88px;" width="25.3" height="28.4" viewBox="0 0 25.3 28.4" fill="none"><path d="M12.3 0.8 L24.5 7.6 V21 L12.3 27.6 L0.8 21 V7.6 Z M0.8 7.6 L12.3 15 L24.5 7.6" stroke="#0061A6" stroke-width="1.6" stroke-linejoin="miter"/></svg>
<div class="a" id="ts1" style="left:369.22px;top:1245.59px;font-size:29px;color:#343741;letter-spacing:0.217px;">Mar 27, 2024 @ 13:02:...<span class="bl"></span></div>
<div class="a" id="rl1" style="left:728.62px;top:1243.49px;font-size:29px;color:#006BB8;letter-spacing:-0.071px;">Malware Prevention ...<span class="bl"></span></div>
<div class="a" id="hi1" style="left:1395.42px;top:1243.49px;font-size:29px;color:#343741;letter-spacing:0.500px;">high<span class="bl"></span></div>
<div class="a" id="rs1" style="left:1707.22px;top:1243.49px;font-size:29px;color:#343741;letter-spacing:3.000px;">73<span class="bl"></span></div>
<div class="a" id="rsn1" style="left:1764.42px;top:1243.49px;font-size:29px;color:#343741;letter-spacing:0.000px;width:695px;overflow:hidden;">malware, intrusion_detection, file event with process path<span class="bl"></span></div>
<div class="a" style="left:43.90px;top:1301.26px;width:27.00px;height:27.40px;border:1.3px solid #909399;border-radius:7px;background:#fff"></div>
<svg style="left:112.00px;top:1302.36px;" width="26.5" height="26.5" viewBox="0 0 26.5 26.5" fill="none"><path d="M17.3 1.3 H25 V9" stroke="#0061A6" stroke-width="1.6"/><path d="M21.4 5 L5.4 21" stroke="#0061A6" stroke-width="1.6"/><path d="M1.6 17.4 V25 H9.6" stroke="#0061A6" stroke-width="1.6"/></svg>
<svg style="left:162.00px;top:1301.66px;" width="27.2" height="27" viewBox="0 0 27.2 27" fill="none"><rect x="9.4" y="0.8" width="8" height="5.8" rx="1.2" stroke="#0061A6" stroke-width="1.5"/><path d="M13.4 6.6 V10.6 M0.6 13.1 H26.6 M4.3 15.5 V20 M22.2 15.5 V20" stroke="#0061A6" stroke-width="1.5"/><path d="M4.3 10.6 L6.8 13.1 L4.3 15.6 L1.7999999999999998 13.1 Z" fill="#fff" stroke="#0061A6" stroke-width="1.4"/><path d="M13.4 10.6 L15.9 13.1 L13.4 15.6 L10.9 13.1 Z" fill="#fff" stroke="#0061A6" stroke-width="1.4"/><path d="M22.2 10.6 L24.7 13.1 L22.2 15.6 L19.7 13.1 Z" fill="#fff" stroke="#0061A6" stroke-width="1.4"/><path d="M0.2 13.1 L2 11.6 M0.2 13.1 L2 14.6 M27 13.1 L25.2 11.6 M27 13.1 L25.2 14.6" stroke="#0061A6" stroke-width="1.2"/><rect x="0.8" y="20" width="7.6" height="5.8" rx="1.2" stroke="#0061A6" stroke-width="1.5"/><rect x="18.8" y="20" width="7.6" height="5.8" rx="1.2" stroke="#0061A6" stroke-width="1.5"/></svg>
<svg style="left:211.60px;top:1311.96px;" width="30" height="7" viewBox="0 0 30 7" fill="none"><rect x="0.8" y="0.8" width="5.6" height="5.3" stroke="#0061A6" stroke-width="1.6"/><rect x="11.6" y="0.8" width="5.6" height="5.3" stroke="#0061A6" stroke-width="1.6"/><rect x="22.4" y="0.8" width="5.6" height="5.3" stroke="#0061A6" stroke-width="1.6"/></svg>
<svg style="left:264.00px;top:1301.56px;" width="25.3" height="28.4" viewBox="0 0 25.3 28.4" fill="none"><path d="M12.3 0.8 L24.5 7.6 V21 L12.3 27.6 L0.8 21 V7.6 Z M0.8 7.6 L12.3 15 L24.5 7.6" stroke="#0061A6" stroke-width="1.6" stroke-linejoin="miter"/></svg>
<div class="a" id="ts2" style="left:369.22px;top:1303.27px;font-size:29px;color:#343741;letter-spacing:0.217px;">Mar 27, 2024 @ 12:52:...<span class="bl"></span></div>
<div class="a" id="rl2" style="left:728.62px;top:1301.17px;font-size:29px;color:#006BB8;letter-spacing:-0.071px;">Malware Prevention ...<span class="bl"></span></div>
<div class="a" id="hi2" style="left:1395.42px;top:1301.17px;font-size:29px;color:#343741;letter-spacing:0.500px;">high<span class="bl"></span></div>
<div class="a" id="rs2" style="left:1707.22px;top:1301.17px;font-size:29px;color:#343741;letter-spacing:3.000px;">73<span class="bl"></span></div>
<div class="a" id="rsn2" style="left:1764.42px;top:1301.17px;font-size:29px;color:#343741;letter-spacing:0.000px;width:695px;overflow:hidden;">malware, intrusion_detection, file event with process path<span class="bl"></span></div>
<div class="a" style="left:43.90px;top:1358.94px;width:27.00px;height:27.40px;border:1.3px solid #909399;border-radius:7px;background:#fff"></div>
<svg style="left:112.00px;top:1360.04px;" width="26.5" height="26.5" viewBox="0 0 26.5 26.5" fill="none"><path d="M17.3 1.3 H25 V9" stroke="#0061A6" stroke-width="1.6"/><path d="M21.4 5 L5.4 21" stroke="#0061A6" stroke-width="1.6"/><path d="M1.6 17.4 V25 H9.6" stroke="#0061A6" stroke-width="1.6"/></svg>
<svg style="left:162.00px;top:1359.34px;" width="27.2" height="27" viewBox="0 0 27.2 27" fill="none"><rect x="9.4" y="0.8" width="8" height="5.8" rx="1.2" stroke="#0061A6" stroke-width="1.5"/><path d="M13.4 6.6 V10.6 M0.6 13.1 H26.6 M4.3 15.5 V20 M22.2 15.5 V20" stroke="#0061A6" stroke-width="1.5"/><path d="M4.3 10.6 L6.8 13.1 L4.3 15.6 L1.7999999999999998 13.1 Z" fill="#fff" stroke="#0061A6" stroke-width="1.4"/><path d="M13.4 10.6 L15.9 13.1 L13.4 15.6 L10.9 13.1 Z" fill="#fff" stroke="#0061A6" stroke-width="1.4"/><path d="M22.2 10.6 L24.7 13.1 L22.2 15.6 L19.7 13.1 Z" fill="#fff" stroke="#0061A6" stroke-width="1.4"/><path d="M0.2 13.1 L2 11.6 M0.2 13.1 L2 14.6 M27 13.1 L25.2 11.6 M27 13.1 L25.2 14.6" stroke="#0061A6" stroke-width="1.2"/><rect x="0.8" y="20" width="7.6" height="5.8" rx="1.2" stroke="#0061A6" stroke-width="1.5"/><rect x="18.8" y="20" width="7.6" height="5.8" rx="1.2" stroke="#0061A6" stroke-width="1.5"/></svg>
<svg style="left:211.60px;top:1369.64px;" width="30" height="7" viewBox="0 0 30 7" fill="none"><rect x="0.8" y="0.8" width="5.6" height="5.3" stroke="#0061A6" stroke-width="1.6"/><rect x="11.6" y="0.8" width="5.6" height="5.3" stroke="#0061A6" stroke-width="1.6"/><rect x="22.4" y="0.8" width="5.6" height="5.3" stroke="#0061A6" stroke-width="1.6"/></svg>
<svg style="left:264.00px;top:1359.24px;" width="25.3" height="28.4" viewBox="0 0 25.3 28.4" fill="none"><path d="M12.3 0.8 L24.5 7.6 V21 L12.3 27.6 L0.8 21 V7.6 Z M0.8 7.6 L12.3 15 L24.5 7.6" stroke="#0061A6" stroke-width="1.6" stroke-linejoin="miter"/></svg>
<div class="a" id="ts3" style="left:369.22px;top:1360.94px;font-size:29px;color:#343741;letter-spacing:0.217px;">Mar 27, 2024 @ 12:47:...<span class="bl"></span></div>
<div class="a" id="rl3" style="left:728.62px;top:1358.85px;font-size:29px;color:#006BB8;letter-spacing:-0.071px;">Malware Prevention ...<span class="bl"></span></div>
<div class="a" id="hi3" style="left:1395.42px;top:1358.85px;font-size:29px;color:#343741;letter-spacing:0.500px;">high<span class="bl"></span></div>
<div class="a" id="rs3" style="left:1707.22px;top:1358.85px;font-size:29px;color:#343741;letter-spacing:3.000px;">73<span class="bl"></span></div>
<div class="a" id="rsn3" style="left:1764.42px;top:1358.85px;font-size:29px;color:#343741;letter-spacing:0.000px;width:695px;overflow:hidden;">malware, intrusion_detection, file event with process path<span class="bl"></span></div>
<div class="a" style="left:43.90px;top:1416.62px;width:27.00px;height:27.40px;border:1.3px solid #909399;border-radius:7px;background:#fff"></div>
<svg style="left:112.00px;top:1417.72px;" width="26.5" height="26.5" viewBox="0 0 26.5 26.5" fill="none"><path d="M17.3 1.3 H25 V9" stroke="#0061A6" stroke-width="1.6"/><path d="M21.4 5 L5.4 21" stroke="#0061A6" stroke-width="1.6"/><path d="M1.6 17.4 V25 H9.6" stroke="#0061A6" stroke-width="1.6"/></svg>
<svg style="left:162.00px;top:1417.02px;" width="27.2" height="27" viewBox="0 0 27.2 27" fill="none"><rect x="9.4" y="0.8" width="8" height="5.8" rx="1.2" stroke="#0061A6" stroke-width="1.5"/><path d="M13.4 6.6 V10.6 M0.6 13.1 H26.6 M4.3 15.5 V20 M22.2 15.5 V20" stroke="#0061A6" stroke-width="1.5"/><path d="M4.3 10.6 L6.8 13.1 L4.3 15.6 L1.7999999999999998 13.1 Z" fill="#fff" stroke="#0061A6" stroke-width="1.4"/><path d="M13.4 10.6 L15.9 13.1 L13.4 15.6 L10.9 13.1 Z" fill="#fff" stroke="#0061A6" stroke-width="1.4"/><path d="M22.2 10.6 L24.7 13.1 L22.2 15.6 L19.7 13.1 Z" fill="#fff" stroke="#0061A6" stroke-width="1.4"/><path d="M0.2 13.1 L2 11.6 M0.2 13.1 L2 14.6 M27 13.1 L25.2 11.6 M27 13.1 L25.2 14.6" stroke="#0061A6" stroke-width="1.2"/><rect x="0.8" y="20" width="7.6" height="5.8" rx="1.2" stroke="#0061A6" stroke-width="1.5"/><rect x="18.8" y="20" width="7.6" height="5.8" rx="1.2" stroke="#0061A6" stroke-width="1.5"/></svg>
<svg style="left:211.60px;top:1427.32px;" width="30" height="7" viewBox="0 0 30 7" fill="none"><rect x="0.8" y="0.8" width="5.6" height="5.3" stroke="#0061A6" stroke-width="1.6"/><rect x="11.6" y="0.8" width="5.6" height="5.3" stroke="#0061A6" stroke-width="1.6"/><rect x="22.4" y="0.8" width="5.6" height="5.3" stroke="#0061A6" stroke-width="1.6"/></svg>
<svg style="left:264.00px;top:1416.92px;" width="25.3" height="28.4" viewBox="0 0 25.3 28.4" fill="none"><path d="M12.3 0.8 L24.5 7.6 V21 L12.3 27.6 L0.8 21 V7.6 Z M0.8 7.6 L12.3 15 L24.5 7.6" stroke="#0061A6" stroke-width="1.6" stroke-linejoin="miter"/></svg>
<div class="a" id="ts4" style="left:369.22px;top:1418.62px;font-size:29px;color:#343741;letter-spacing:0.217px;">Mar 27, 2024 @ 12:37:...<span class="bl"></span></div>
<div class="a" id="rl4" style="left:728.62px;top:1416.53px;font-size:29px;color:#006BB8;letter-spacing:-0.071px;">Malware Prevention ...<span class="bl"></span></div>
<div class="a" id="hi4" style="left:1395.42px;top:1416.53px;font-size:29px;color:#343741;letter-spacing:0.500px;">high<span class="bl"></span></div>
<div class="a" id="rs4" style="left:1707.22px;top:1416.53px;font-size:29px;color:#343741;letter-spacing:3.000px;">73<span class="bl"></span></div>
<div class="a" id="rsn4" style="left:1764.42px;top:1416.53px;font-size:29px;color:#343741;letter-spacing:0.000px;width:695px;overflow:hidden;">malware, intrusion_detection, file event with process path<span class="bl"></span></div>
<div class="a" style="left:43.90px;top:1474.30px;width:27.00px;height:27.40px;border:1.3px solid #909399;border-radius:7px;background:#fff"></div>
<svg style="left:112.00px;top:1475.40px;" width="26.5" height="26.5" viewBox="0 0 26.5 26.5" fill="none"><path d="M17.3 1.3 H25 V9" stroke="#0061A6" stroke-width="1.6"/><path d="M21.4 5 L5.4 21" stroke="#0061A6" stroke-width="1.6"/><path d="M1.6 17.4 V25 H9.6" stroke="#0061A6" stroke-width="1.6"/></svg>
<svg style="left:162.00px;top:1474.70px;" width="27.2" height="27" viewBox="0 0 27.2 27" fill="none"><rect x="9.4" y="0.8" width="8" height="5.8" rx="1.2" stroke="#0061A6" stroke-width="1.5"/><path d="M13.4 6.6 V10.6 M0.6 13.1 H26.6 M4.3 15.5 V20 M22.2 15.5 V20" stroke="#0061A6" stroke-width="1.5"/><path d="M4.3 10.6 L6.8 13.1 L4.3 15.6 L1.7999999999999998 13.1 Z" fill="#fff" stroke="#0061A6" stroke-width="1.4"/><path d="M13.4 10.6 L15.9 13.1 L13.4 15.6 L10.9 13.1 Z" fill="#fff" stroke="#0061A6" stroke-width="1.4"/><path d="M22.2 10.6 L24.7 13.1 L22.2 15.6 L19.7 13.1 Z" fill="#fff" stroke="#0061A6" stroke-width="1.4"/><path d="M0.2 13.1 L2 11.6 M0.2 13.1 L2 14.6 M27 13.1 L25.2 11.6 M27 13.1 L25.2 14.6" stroke="#0061A6" stroke-width="1.2"/><rect x="0.8" y="20" width="7.6" height="5.8" rx="1.2" stroke="#0061A6" stroke-width="1.5"/><rect x="18.8" y="20" width="7.6" height="5.8" rx="1.2" stroke="#0061A6" stroke-width="1.5"/></svg>
<svg style="left:211.60px;top:1485.00px;" width="30" height="7" viewBox="0 0 30 7" fill="none"><rect x="0.8" y="0.8" width="5.6" height="5.3" stroke="#0061A6" stroke-width="1.6"/><rect x="11.6" y="0.8" width="5.6" height="5.3" stroke="#0061A6" stroke-width="1.6"/><rect x="22.4" y="0.8" width="5.6" height="5.3" stroke="#0061A6" stroke-width="1.6"/></svg>
<svg style="left:264.00px;top:1474.60px;" width="25.3" height="28.4" viewBox="0 0 25.3 28.4" fill="none"><path d="M12.3 0.8 L24.5 7.6 V21 L12.3 27.6 L0.8 21 V7.6 Z M0.8 7.6 L12.3 15 L24.5 7.6" stroke="#0061A6" stroke-width="1.6" stroke-linejoin="miter"/></svg>
<div class="a" id="ts5" style="left:369.22px;top:1476.32px;font-size:29px;color:#343741;letter-spacing:0.217px;">Mar 27, 2024 @ 12:27:...<span class="bl"></span></div>
<div class="a" id="rl5" style="left:728.62px;top:1474.20px;font-size:29px;color:#006BB8;letter-spacing:-0.071px;">Malware Prevention ...<span class="bl"></span></div>
<div class="a" id="hi5" style="left:1395.42px;top:1474.20px;font-size:29px;color:#343741;letter-spacing:0.500px;">high<span class="bl"></span></div>
<div class="a" id="rs5" style="left:1707.22px;top:1474.20px;font-size:29px;color:#343741;letter-spacing:3.000px;">73<span class="bl"></span></div>
<div class="a" id="rsn5" style="left:1764.42px;top:1474.20px;font-size:29px;color:#343741;letter-spacing:0.000px;width:695px;overflow:hidden;">malware, intrusion_detection, file event with process path<span class="bl"></span></div>
<div class="a" style="left:43.90px;top:1531.98px;width:27.00px;height:27.40px;border:1.3px solid #909399;border-radius:7px;background:#fff"></div>
<svg style="left:112.00px;top:1533.08px;" width="26.5" height="26.5" viewBox="0 0 26.5 26.5" fill="none"><path d="M17.3 1.3 H25 V9" stroke="#0061A6" stroke-width="1.6"/><path d="M21.4 5 L5.4 21" stroke="#0061A6" stroke-width="1.6"/><path d="M1.6 17.4 V25 H9.6" stroke="#0061A6" stroke-width="1.6"/></svg>
<svg style="left:162.00px;top:1532.38px;" width="27.2" height="27" viewBox="0 0 27.2 27" fill="none"><rect x="9.4" y="0.8" width="8" height="5.8" rx="1.2" stroke="#0061A6" stroke-width="1.5"/><path d="M13.4 6.6 V10.6 M0.6 13.1 H26.6 M4.3 15.5 V20 M22.2 15.5 V20" stroke="#0061A6" stroke-width="1.5"/><path d="M4.3 10.6 L6.8 13.1 L4.3 15.6 L1.7999999999999998 13.1 Z" fill="#fff" stroke="#0061A6" stroke-width="1.4"/><path d="M13.4 10.6 L15.9 13.1 L13.4 15.6 L10.9 13.1 Z" fill="#fff" stroke="#0061A6" stroke-width="1.4"/><path d="M22.2 10.6 L24.7 13.1 L22.2 15.6 L19.7 13.1 Z" fill="#fff" stroke="#0061A6" stroke-width="1.4"/><path d="M0.2 13.1 L2 11.6 M0.2 13.1 L2 14.6 M27 13.1 L25.2 11.6 M27 13.1 L25.2 14.6" stroke="#0061A6" stroke-width="1.2"/><rect x="0.8" y="20" width="7.6" height="5.8" rx="1.2" stroke="#0061A6" stroke-width="1.5"/><rect x="18.8" y="20" width="7.6" height="5.8" rx="1.2" stroke="#0061A6" stroke-width="1.5"/></svg>
<svg style="left:211.60px;top:1542.68px;" width="30" height="7" viewBox="0 0 30 7" fill="none"><rect x="0.8" y="0.8" width="5.6" height="5.3" stroke="#0061A6" stroke-width="1.6"/><rect x="11.6" y="0.8" width="5.6" height="5.3" stroke="#0061A6" stroke-width="1.6"/><rect x="22.4" y="0.8" width="5.6" height="5.3" stroke="#0061A6" stroke-width="1.6"/></svg>
<svg style="left:264.00px;top:1532.28px;" width="25.3" height="28.4" viewBox="0 0 25.3 28.4" fill="none"><path d="M12.3 0.8 L24.5 7.6 V21 L12.3 27.6 L0.8 21 V7.6 Z M0.8 7.6 L12.3 15 L24.5 7.6" stroke="#0061A6" stroke-width="1.6" stroke-linejoin="miter"/></svg>
<div class="a" id="ts6" style="left:369.22px;top:1534.00px;font-size:29px;color:#343741;letter-spacing:0.217px;">Mar 27, 2024 @ 12:22:...<span class="bl"></span></div>
<div class="a" id="rl6" style="left:728.62px;top:1531.90px;font-size:29px;color:#006BB8;letter-spacing:-0.071px;">Malware Prevention ...<span class="bl"></span></div>
<div class="a" id="hi6" style="left:1395.42px;top:1531.90px;font-size:29px;color:#343741;letter-spacing:0.500px;">high<span class="bl"></span></div>
<div class="a" id="rs6" style="left:1707.22px;top:1531.90px;font-size:29px;color:#343741;letter-spacing:3.000px;">73<span class="bl"></span></div>
<div class="a" id="rsn6" style="left:1764.42px;top:1531.90px;font-size:29px;color:#343741;letter-spacing:0.000px;width:695px;overflow:hidden;">malware, intrusion_detection, file event with process path<span class="bl"></span></div>
<div class="a" style="left:43.90px;top:1589.66px;width:27.00px;height:27.40px;border:1.3px solid #909399;border-radius:7px;background:#fff"></div>
<svg style="left:112.00px;top:1590.76px;" width="26.5" height="26.5" viewBox="0 0 26.5 26.5" fill="none"><path d="M17.3 1.3 H25 V9" stroke="#0061A6" stroke-width="1.6"/><path d="M21.4 5 L5.4 21" stroke="#0061A6" stroke-width="1.6"/><path d="M1.6 17.4 V25 H9.6" stroke="#0061A6" stroke-width="1.6"/></svg>
<svg style="left:162.00px;top:1590.06px;" width="27.2" height="27" viewBox="0 0 27.2 27" fill="none"><rect x="9.4" y="0.8" width="8" height="5.8" rx="1.2" stroke="#0061A6" stroke-width="1.5"/><path d="M13.4 6.6 V10.6 M0.6 13.1 H26.6 M4.3 15.5 V20 M22.2 15.5 V20" stroke="#0061A6" stroke-width="1.5"/><path d="M4.3 10.6 L6.8 13.1 L4.3 15.6 L1.7999999999999998 13.1 Z" fill="#fff" stroke="#0061A6" stroke-width="1.4"/><path d="M13.4 10.6 L15.9 13.1 L13.4 15.6 L10.9 13.1 Z" fill="#fff" stroke="#0061A6" stroke-width="1.4"/><path d="M22.2 10.6 L24.7 13.1 L22.2 15.6 L19.7 13.1 Z" fill="#fff" stroke="#0061A6" stroke-width="1.4"/><path d="M0.2 13.1 L2 11.6 M0.2 13.1 L2 14.6 M27 13.1 L25.2 11.6 M27 13.1 L25.2 14.6" stroke="#0061A6" stroke-width="1.2"/><rect x="0.8" y="20" width="7.6" height="5.8" rx="1.2" stroke="#0061A6" stroke-width="1.5"/><rect x="18.8" y="20" width="7.6" height="5.8" rx="1.2" stroke="#0061A6" stroke-width="1.5"/></svg>
<svg style="left:211.60px;top:1600.36px;" width="30" height="7" viewBox="0 0 30 7" fill="none"><rect x="0.8" y="0.8" width="5.6" height="5.3" stroke="#0061A6" stroke-width="1.6"/><rect x="11.6" y="0.8" width="5.6" height="5.3" stroke="#0061A6" stroke-width="1.6"/><rect x="22.4" y="0.8" width="5.6" height="5.3" stroke="#0061A6" stroke-width="1.6"/></svg>
<svg style="left:264.00px;top:1589.96px;" width="25.3" height="28.4" viewBox="0 0 25.3 28.4" fill="none"><path d="M12.3 0.8 L24.5 7.6 V21 L12.3 27.6 L0.8 21 V7.6 Z M0.8 7.6 L12.3 15 L24.5 7.6" stroke="#0061A6" stroke-width="1.6" stroke-linejoin="miter"/></svg>
<div class="a" id="ts7" style="left:369.22px;top:1591.67px;font-size:29px;color:#343741;letter-spacing:0.217px;">Mar 27, 2024 @ 12:01:...<span class="bl"></span></div>
<div class="a" id="rl7" style="left:728.62px;top:1589.58px;font-size:29px;color:#006BB8;letter-spacing:-0.071px;">Malware Prevention ...<span class="bl"></span></div>
<div class="a" id="hi7" style="left:1395.42px;top:1589.58px;font-size:29px;color:#343741;letter-spacing:0.500px;">high<span class="bl"></span></div>
<div class="a" id="rs7" style="left:1707.22px;top:1589.58px;font-size:29px;color:#343741;letter-spacing:3.000px;">73<span class="bl"></span></div>
<div class="a" id="rsn7" style="left:1764.42px;top:1589.58px;font-size:29px;color:#343741;letter-spacing:0.000px;width:695px;overflow:hidden;">malware, intrusion_detection, file event with process path<span class="bl"></span></div>
<div class="a" style="left:43.90px;top:1647.34px;width:27.00px;height:27.40px;border:1.3px solid #909399;border-radius:7px;background:#fff"></div>
<svg style="left:112.00px;top:1648.44px;" width="26.5" height="26.5" viewBox="0 0 26.5 26.5" fill="none"><path d="M17.3 1.3 H25 V9" stroke="#0061A6" stroke-width="1.6"/><path d="M21.4 5 L5.4 21" stroke="#0061A6" stroke-width="1.6"/><path d="M1.6 17.4 V25 H9.6" stroke="#0061A6" stroke-width="1.6"/></svg>
<svg style="left:162.00px;top:1647.74px;" width="27.2" height="27" viewBox="0 0 27.2 27" fill="none"><rect x="9.4" y="0.8" width="8" height="5.8" rx="1.2" stroke="#0061A6" stroke-width="1.5"/><path d="M13.4 6.6 V10.6 M0.6 13.1 H26.6 M4.3 15.5 V20 M22.2 15.5 V20" stroke="#0061A6" stroke-width="1.5"/><path d="M4.3 10.6 L6.8 13.1 L4.3 15.6 L1.7999999999999998 13.1 Z" fill="#fff" stroke="#0061A6" stroke-width="1.4"/><path d="M13.4 10.6 L15.9 13.1 L13.4 15.6 L10.9 13.1 Z" fill="#fff" stroke="#0061A6" stroke-width="1.4"/><path d="M22.2 10.6 L24.7 13.1 L22.2 15.6 L19.7 13.1 Z" fill="#fff" stroke="#0061A6" stroke-width="1.4"/><path d="M0.2 13.1 L2 11.6 M0.2 13.1 L2 14.6 M27 13.1 L25.2 11.6 M27 13.1 L25.2 14.6" stroke="#0061A6" stroke-width="1.2"/><rect x="0.8" y="20" width="7.6" height="5.8" rx="1.2" stroke="#0061A6" stroke-width="1.5"/><rect x="18.8" y="20" width="7.6" height="5.8" rx="1.2" stroke="#0061A6" stroke-width="1.5"/></svg>
<svg style="left:211.60px;top:1658.04px;" width="30" height="7" viewBox="0 0 30 7" fill="none"><rect x="0.8" y="0.8" width="5.6" height="5.3" stroke="#0061A6" stroke-width="1.6"/><rect x="11.6" y="0.8" width="5.6" height="5.3" stroke="#0061A6" stroke-width="1.6"/><rect x="22.4" y="0.8" width="5.6" height="5.3" stroke="#0061A6" stroke-width="1.6"/></svg>
<svg style="left:264.00px;top:1647.64px;" width="25.3" height="28.4" viewBox="0 0 25.3 28.4" fill="none"><path d="M12.3 0.8 L24.5 7.6 V21 L12.3 27.6 L0.8 21 V7.6 Z M0.8 7.6 L12.3 15 L24.5 7.6" stroke="#0061A6" stroke-width="1.6" stroke-linejoin="miter"/></svg>
<div class="a" id="ts8" style="left:369.22px;top:1649.35px;font-size:29px;color:#343741;letter-spacing:0.217px;">Mar 27, 2024 @ 12:01:...<span class="bl"></span></div>
<div class="a" id="rl8" style="left:728.62px;top:1647.24px;font-size:29px;color:#006BB8;letter-spacing:-0.071px;">Malware Prevention ...<span class="bl"></span></div>
<div class="a" id="hi8" style="left:1395.42px;top:1647.24px;font-size:29px;color:#343741;letter-spacing:0.500px;">high<span class="bl"></span></div>
<div class="a" id="rs8" style="left:1707.22px;top:1647.24px;font-size:29px;color:#343741;letter-spacing:3.000px;">73<span class="bl"></span></div>
<div class="a" id="rsn8" style="left:1764.42px;top:1647.24px;font-size:29px;color:#343741;letter-spacing:0.000px;width:695px;overflow:hidden;">malware, intrusion_detection, file event with process path<span class="bl"></span></div>
<div class="a" style="left:43.90px;top:1705.02px;width:27.00px;height:27.40px;border:1.3px solid #909399;border-radius:7px;background:#fff"></div>
<svg style="left:112.00px;top:1706.12px;" width="26.5" height="26.5" viewBox="0 0 26.5 26.5" fill="none"><path d="M17.3 1.3 H25 V9" stroke="#0061A6" stroke-width="1.6"/><path d="M21.4 5 L5.4 21" stroke="#0061A6" stroke-width="1.6"/><path d="M1.6 17.4 V25 H9.6" stroke="#0061A6" stroke-width="1.6"/></svg>
<svg style="left:162.00px;top:1705.42px;" width="27.2" height="27" viewBox="0 0 27.2 27" fill="none"><rect x="9.4" y="0.8" width="8" height="5.8" rx="1.2" stroke="#0061A6" stroke-width="1.5"/><path d="M13.4 6.6 V10.6 M0.6 13.1 H26.6 M4.3 15.5 V20 M22.2 15.5 V20" stroke="#0061A6" stroke-width="1.5"/><path d="M4.3 10.6 L6.8 13.1 L4.3 15.6 L1.7999999999999998 13.1 Z" fill="#fff" stroke="#0061A6" stroke-width="1.4"/><path d="M13.4 10.6 L15.9 13.1 L13.4 15.6 L10.9 13.1 Z" fill="#fff" stroke="#0061A6" stroke-width="1.4"/><path d="M22.2 10.6 L24.7 13.1 L22.2 15.6 L19.7 13.1 Z" fill="#fff" stroke="#0061A6" stroke-width="1.4"/><path d="M0.2 13.1 L2 11.6 M0.2 13.1 L2 14.6 M27 13.1 L25.2 11.6 M27 13.1 L25.2 14.6" stroke="#0061A6" stroke-width="1.2"/><rect x="0.8" y="20" width="7.6" height="5.8" rx="1.2" stroke="#0061A6" stroke-width="1.5"/><rect x="18.8" y="20" width="7.6" height="5.8" rx="1.2" stroke="#0061A6" stroke-width="1.5"/></svg>
<svg style="left:211.60px;top:1715.72px;" width="30" height="7" viewBox="0 0 30 7" fill="none"><rect x="0.8" y="0.8" width="5.6" height="5.3" stroke="#0061A6" stroke-width="1.6"/><rect x="11.6" y="0.8" width="5.6" height="5.3" stroke="#0061A6" stroke-width="1.6"/><rect x="22.4" y="0.8" width="5.6" height="5.3" stroke="#0061A6" stroke-width="1.6"/></svg>
<svg style="left:264.00px;top:1705.32px;" width="25.3" height="28.4" viewBox="0 0 25.3 28.4" fill="none"><path d="M12.3 0.8 L24.5 7.6 V21 L12.3 27.6 L0.8 21 V7.6 Z M0.8 7.6 L12.3 15 L24.5 7.6" stroke="#0061A6" stroke-width="1.6" stroke-linejoin="miter"/></svg>
<div class="a" id="ts9" style="left:369.22px;top:1707.03px;font-size:29px;color:#343741;letter-spacing:0.348px;">Mar 27, 2024 @ 11:51:...<span class="bl"></span></div>
<div class="a" id="rl9" style="left:728.62px;top:1704.92px;font-size:29px;color:#006BB8;letter-spacing:-0.071px;">Malware Prevention ...<span class="bl"></span></div>
<div class="a" id="hi9" style="left:1395.42px;top:1704.92px;font-size:29px;color:#343741;letter-spacing:0.500px;">high<span class="bl"></span></div>
<div class="a" id="rs9" style="left:1707.22px;top:1704.92px;font-size:29px;color:#343741;letter-spacing:3.000px;">73<span class="bl"></span></div>
<div class="a" id="rsn9" style="left:1764.42px;top:1704.92px;font-size:29px;color:#343741;letter-spacing:0.000px;width:695px;overflow:hidden;">malware, intrusion_detection, file event with process path<span class="bl"></span></div>
</body></html>
